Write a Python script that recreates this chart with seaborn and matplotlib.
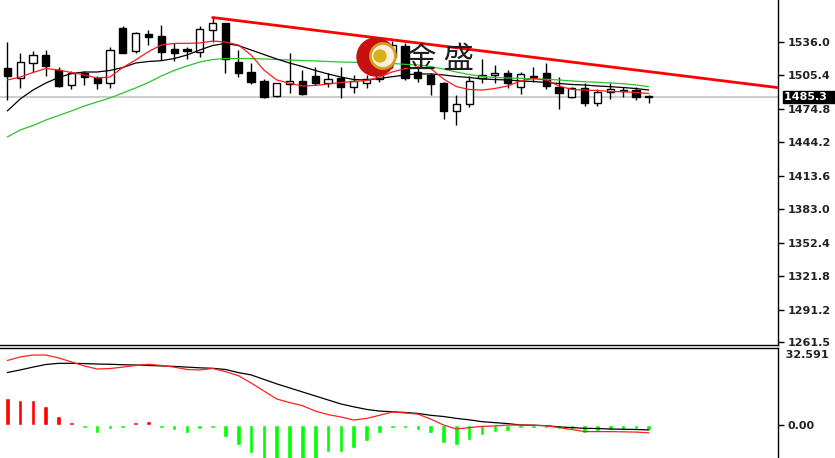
import numpy as np
import pandas as pd
import matplotlib
matplotlib.use("Agg")
import matplotlib.pyplot as plt
from matplotlib.patches import Circle
from matplotlib.transforms import IdentityTransform, blended_transform_factory
import seaborn as sns

# candle data
opens = [1512.0, 1502.5, 1516.3, 1523.8, 1510.1, 1496.4, 1507.7, 1502.5, 1498.5, 1548.2,
         1527.8, 1543.0, 1540.9, 1529.0, 1529.0, 1526.9, 1546.7, 1552.8, 1517.7, 1508.6,
         1500.1, 1486.4, 1497.3, 1500.1, 1504.9, 1498.5, 1502.5, 1494.9, 1498.0, 1502.0,
         1522.3, 1532.1, 1508.0, 1505.6, 1498.5, 1472.9, 1479.0, 1502.5, 1505.6, 1507.1,
         1494.9, 1503.5, 1507.1, 1494.9, 1485.2, 1493.4, 1480.2, 1490.3, 1490.9, 1491.8, 1486.0]
highs = [1536.0, 1525.4, 1527.8, 1528.4, 1513.1, 1509.2, 1509.5, 1504.6, 1531.4, 1550.4,
         1545.1, 1546.7, 1551.7, 1534.5, 1531.0, 1550.4, 1558.1, 1553.4, 1528.4, 1516.3,
         1501.6, 1498.5, 1525.4, 1510.1, 1512.6, 1507.1, 1512.6, 1505.6, 1506.0, 1514.0,
         1536.9, 1534.5, 1513.0, 1507.1, 1499.4, 1487.3, 1504.6, 1519.9, 1514.7, 1510.1,
         1508.6, 1513.1, 1516.8, 1504.0, 1494.9, 1498.0, 1492.5, 1498.0, 1494.9, 1494.9, 1487.3]
lows = [1482.7, 1493.4, 1508.6, 1504.6, 1494.3, 1492.8, 1496.4, 1492.5, 1493.4, 1525.4,
        1526.0, 1533.0, 1519.3, 1518.6, 1519.9, 1522.3, 1536.0, 1507.1, 1504.0, 1497.3,
        1484.3, 1485.7, 1488.8, 1487.3, 1496.4, 1494.9, 1484.3, 1488.8, 1494.0, 1499.0,
        1511.7, 1501.0, 1499.0, 1487.3, 1465.1, 1459.9, 1476.0, 1498.0, 1498.0, 1493.4,
        1487.9, 1499.4, 1492.5, 1474.2, 1484.3, 1477.2, 1477.2, 1483.4, 1485.7, 1482.7, 1480.2]
closes = [1504.9, 1517.2, 1523.8, 1513.8, 1495.5, 1507.1, 1503.5, 1498.5, 1528.4, 1526.0,
          1543.7, 1540.3, 1526.9, 1526.0, 1527.5, 1547.6, 1552.8, 1519.9, 1507.7, 1499.4,
          1485.2, 1498.0, 1500.1, 1487.9, 1498.5, 1501.9, 1494.3, 1500.4, 1502.0, 1510.0,
          1533.0, 1502.5, 1503.0, 1497.3, 1472.9, 1478.8, 1500.4, 1505.6, 1507.1, 1498.0,
          1506.2, 1504.6, 1495.5, 1488.8, 1494.0, 1480.2, 1490.3, 1492.5, 1491.8, 1485.2, 1485.3]

# moving averages (red = fast, black = mid, green = slow)
ma_fast = [1501.0, 1503.7, 1507.8, 1511.5, 1510.1, 1507.8, 1505.6, 1502.8, 1503.7, 1512.4,
           1519.3, 1526.9, 1533.0, 1534.4, 1534.5, 1534.8, 1536.6, 1535.7, 1533.0, 1523.8,
           1510.1, 1501.0, 1498.0, 1495.5, 1496.0, 1497.3, 1498.7, 1499.6, 1500.5, 1503.7,
           1508.3, 1511.5, 1512.9, 1511.5, 1501.9, 1495.0, 1492.3, 1491.8, 1493.2, 1495.5,
           1500.1, 1502.4, 1501.0, 1495.5, 1492.3, 1491.8, 1491.4, 1490.5, 1490.3, 1489.6, 1488.7]
ma_mid = [1472.7, 1483.6, 1491.8, 1498.2, 1503.3, 1506.9, 1508.3, 1508.3, 1509.7, 1512.4,
          1516.5, 1517.9, 1518.6, 1520.6, 1523.8, 1528.4, 1532.5, 1534.4, 1532.5, 1528.4,
          1524.3, 1520.2, 1516.5, 1513.3, 1509.7, 1506.5, 1503.7, 1501.4, 1501.0, 1502.4,
          1504.0, 1505.6, 1506.5, 1506.5, 1505.6, 1504.2, 1503.3, 1501.9, 1501.4, 1501.0,
          1500.1, 1499.6, 1498.7, 1497.8, 1496.9, 1496.4, 1495.5, 1494.9, 1494.1, 1493.2, 1491.8]
ma_slow = [1448.9, 1455.3, 1459.4, 1464.4, 1468.5, 1472.7, 1477.2, 1480.9, 1484.5, 1489.1,
           1493.7, 1498.7, 1504.6, 1509.7, 1513.8, 1517.4, 1519.7, 1520.6, 1520.6, 1520.6,
           1520.2, 1519.7, 1519.3, 1518.8, 1518.4, 1517.9, 1517.4, 1517.2, 1516.8, 1516.5,
           1516.1, 1515.3, 1514.7, 1513.3, 1511.0, 1508.3, 1506.0, 1504.2, 1503.3, 1502.8,
           1502.5, 1502.1, 1501.6, 1501.0, 1500.1, 1499.4, 1498.9, 1498.3, 1497.6, 1496.5, 1494.9]

# MACD panel
macd_hist = [11.3, 10.6, 10.6, 8.2, 3.8, 1.4, -1.0, -3.5, -1.7, -0.7,
             1.4, 1.7, -0.3, -2.1, -3.5, -1.7, -1.0, -4.9, -8.5, -11.8,
             -15.0, -16.0, -16.0, -15.5, -14.5, -11.3, -11.5, -9.7, -6.6, -3.3,
             -0.3, -1.4, -2.1, -3.5, -7.5, -8.5, -6.3, -4.2, -2.8, -2.4,
             -1.0, -0.4, -0.4, -1.8, -1.8, -3.2, -2.4, -2.1, -2.1, -1.8, -2.1]
macd_black = [22.2, 23.3, 24.5, 25.6, 26.1, 26.1, 26.0, 25.8, 25.7, 25.5,
              25.4, 25.2, 25.0, 24.8, 24.5, 24.2, 24.0, 23.5, 22.2, 21.2,
              19.3, 17.4, 15.7, 14.0, 12.3, 10.6, 8.9, 7.7, 6.6, 5.9,
              5.6, 5.3, 4.9, 4.1, 3.6, 2.8, 2.2, 1.4, 1.0, 0.6,
              0.0, -0.1, -0.3, -0.8, -1.1, -1.4, -1.5, -1.7, -1.8, -1.9, -2.1]
macd_red = [27.3, 28.8, 29.6, 29.6, 28.4, 26.7, 25.0, 23.7, 23.9, 24.5,
            25.2, 25.7, 25.2, 24.5, 23.5, 23.3, 23.9, 22.6, 20.9, 17.8,
            14.4, 11.0, 9.5, 8.2, 5.9, 4.4, 3.4, 2.1, 2.8, 4.1,
            5.5, 5.1, 4.6, 2.5, 0.0, -1.7, -1.1, -0.6, -0.4, 0.0,
            0.0, -0.1, -0.3, -1.1, -1.9, -2.8, -2.8, -2.8, -2.9, -3.0, -3.3]

trend_x = [16, 60]
trend_y = [1558.1, 1494.1]
last_price = 1485.3
price_ticks = [1536.0, 1505.4, 1474.8, 1444.2, 1413.6, 1383.0, 1352.4, 1321.8, 1291.2, 1261.5]
macd_top_label = "32.591"

sns.set_style("white")
plt.rcParams['font.family'] = ['DejaVu Sans', 'Noto Sans CJK SC']

idx = np.arange(len(opens))
df = pd.DataFrame({"o": opens, "h": highs, "l": lows, "c": closes})
up = df["c"] >= df["o"]

fig = plt.figure(figsize=(8.35, 4.58), dpi=100)
ax = fig.add_axes([0, (458 - 345) / 458, 778 / 835, 345 / 458])
ax2 = fig.add_axes([0, -30 / 458, 778 / 835, (110 + 30) / 458])

xlim = (-0.57, 60.07)

# price panel
ax.axhline(last_price, color="#c8c8c8", lw=1.3, zorder=1)
ax.vlines(idx, df["l"], df["h"], color="black", lw=1, zorder=2)
body_h = (df["c"] - df["o"]).abs().clip(lower=0.4)
ax.bar(idx, body_h, bottom=df[["o", "c"]].min(axis=1), width=0.56,
       color=np.where(up, "white", "black"), edgecolor="black", linewidth=1, zorder=3)
sns.lineplot(x=idx, y=ma_slow, ax=ax, color="#2fc02f", lw=0.9, zorder=4)
sns.lineplot(x=idx, y=ma_mid, ax=ax, color="black", lw=0.9, zorder=4)
sns.lineplot(x=idx, y=ma_fast, ax=ax, color="#ff1a1a", lw=0.9, zorder=4)
sns.lineplot(x=trend_x, y=trend_y, ax=ax, color="#ff0000", lw=2, zorder=5)

ax.set_xlim(*xlim)
ax.set_ylim(1258.8, 1574.1)
ax.set_yticks(price_ticks)
ax.set_yticklabels([f"{v:.1f}" for v in price_ticks])
ax.set_xticks([])

# MACD panel (tiny bars still drawn as small blocks, like the terminal does)
hist = np.array(macd_hist)
hist_drawn = np.sign(hist) * np.maximum(np.abs(hist), 1.2)
ax2.bar(idx, hist_drawn, width=0.36,
        color=np.where(hist >= 0, "#ff0000", "#00ff00"), zorder=2)
sns.lineplot(x=idx, y=macd_black, ax=ax2, color="black", lw=0.9, zorder=3)
sns.lineplot(x=idx, y=macd_red, ax=ax2, color="#ff2020", lw=0.9, zorder=3)
ax2.set_xlim(*xlim)
ax2.set_ylim((425 - 488) / 2.363, (425 - 348) / 2.363)
ax2.set_yticks([0.0])
ax2.set_yticklabels(["0.00"])
ax2.set_xticks([])
ax2.text(1.0, 0.985, "  " + macd_top_label, transform=ax2.transAxes, ha="left", va="top",
         fontsize=8, fontweight="bold", color="#222222")

for a in (ax, ax2):
    a.yaxis.tick_right()
    a.tick_params(axis="y", right=True, left=False, length=4, width=1, pad=3,
                  labelsize=8, labelcolor="#222222", color="black", direction="out")
    for lbl in a.get_yticklabels():
        lbl.set_fontweight("bold")
    a.spines["left"].set_visible(False)
    a.spines["right"].set_color("black")
    a.spines["right"].set_linewidth(1)
    a.patch.set_alpha(0)
ax.spines["top"].set_visible(False)
ax.spines["bottom"].set_color("black")
ax.spines["bottom"].set_linewidth(1)
ax2.spines["top"].set_color("black")
ax2.spines["top"].set_linewidth(1)
ax2.spines["bottom"].set_visible(False)

# last price box
trans = blended_transform_factory(ax.transAxes, ax.transData)
ax.text(1.008, last_price, f"{last_price:.1f}  ", transform=trans, ha="left", va="center",
        fontsize=8, fontweight="bold", color="white",
        bbox=dict(boxstyle="square,pad=0.1", fc="black", ec="black"), zorder=10, clip_on=False)

# watermark logo
H = 458
logo = [Circle((376, H - 57), 19, color="#c81010"),
        Circle((383, H - 56), 12.5, fc="#f6efe0", ec="#d2a020", lw=2),
        Circle((380, H - 56), 6, color="#d8b018")]
for p in logo:
    p.set_transform(IdentityTransform())
    p.set_zorder(20)
    fig.add_artist(p)
fig.text(440 / 835, 1 - 60 / 458, "金 盛", ha="center", va="center", fontsize=22,
         family=["Noto Sans CJK SC", "DejaVu Sans"], color="#1e1e1e", zorder=21)

fig.savefig("out.png", dpi=100)
